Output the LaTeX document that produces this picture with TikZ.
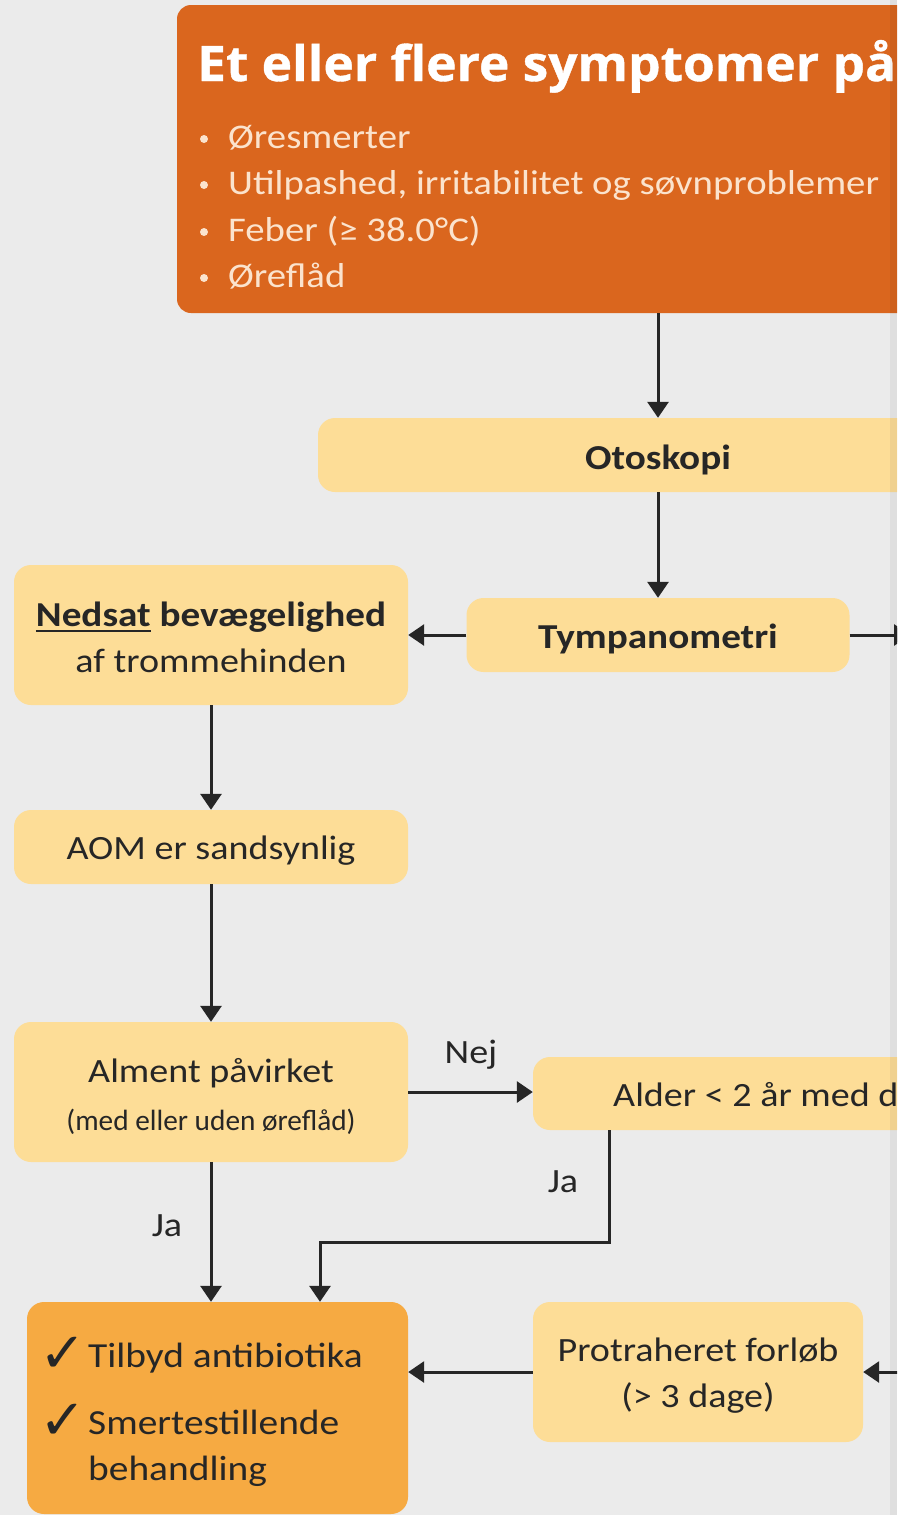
\documentclass[tikz,border=0pt]{standalone}
\usepackage{fontspec}
\setmainfont{Carlito}[FakeStretch=1.12]
\newfontfamily\condfont{Carlito}
\newfontfamily\titlefont{Open Sans}[FakeStretch=1.05, BoldFeatures={FakeBold=0.8}]
\newfontfamily\symfont{DejaVu Sans}
\usetikzlibrary{arrows.meta}

\definecolor{bgc}{HTML}{EBEBEB}
\definecolor{deep}{HTML}{DA661E}
\definecolor{pale}{HTML}{FDDD97}
\definecolor{mid}{HTML}{F6AA42}
\definecolor{ink}{HTML}{262626}
\definecolor{cream}{HTML}{FBE3CD}

% underline with a thickness that suits large type
\newcommand\ulword[1]{\setbox0\hbox{#1}\rlap{\color{ink}\rule[-0.16em]{\wd0}{0.055em}}\box0\relax}

\tikzset{
  box/.style={rectangle, rounded corners=17pt, fill=pale, inner sep=0pt},
  txt/.style={text=ink, inner sep=0pt, align=center, yshift=-4pt},
  arr/.style={draw=ink, line width=3pt, -{Triangle[length=16pt,width=21pt]}},
  reg/.style={font=\fontsize{34}{46}\selectfont},
  bold/.style={font=\bfseries\fontsize{35}{46}\selectfont},
  lbl/.style={text=ink, inner sep=0pt, font=\fontsize{34}{40}\selectfont},
  bul/.style={text=cream, inner sep=0pt, anchor=base west, font=\fontsize{34.6}{40}\selectfont},
  tick/.style={text=ink, inner sep=0pt, anchor=base west, font=\symfont\fontsize{56}{60}\selectfont},
}

\begin{document}
\begin{tikzpicture}[x=1pt,y=-1pt]
\useasboundingbox (0,0) rectangle (897,1515);
\clip (0,0) rectangle (897,1515);
\fill[bgc] (0,0) rectangle (897,1515);

% symptom panel
\node[rectangle, rounded corners=14pt, fill=deep, inner sep=0pt,
      minimum width=962pt, minimum height=308pt] (symp) at (658,159) {};
\node[anchor=base west, text=white, inner sep=0pt,
      font=\titlefont\bfseries\fontsize{49}{55}\selectfont] (title) at (197,81) {Et eller flere symptomer på};
\node[bul] (s1) at (228,148) {Øresmerter};
\node[bul] (s2) at (228,194) {Utilpashed, irritabilitet og søvnproblemer};
\node[bul] (s3) at (228,241) {Feber (≥ 38.0°C)};
\node[bul] (s4) at (228,287) {Øreflåd};
\foreach \yy in {139,185,232,278} \fill[cream] (204,\yy) circle (4pt);

% boxes
\node[box, minimum width=680pt, minimum height=74pt] (otos) at (658,455) {};
\node[box, minimum width=383pt, minimum height=74pt] (tymp) at (658,635) {};
\node[box, minimum width=394pt, minimum height=140pt] (nedsat) at (211,635) {};
\node[box, minimum width=394pt, minimum height=74pt] (aom) at (211,847) {};
\node[box, minimum width=394pt, minimum height=140pt] (alment) at (211,1092) {};
\node[box, minimum width=600pt, minimum height=73pt] (alder) at (833,1093.5) {};
\node[box, fill=mid, minimum width=381pt, minimum height=212pt] (tilbyd) at (217.5,1408) {};
\node[box, minimum width=330pt, minimum height=140pt] (prot) at (698,1372) {};

% box texts
\node[txt, bold, yshift=-1pt] (otostxt) at (otos.center) {Otoskopi};
\node[txt, bold] (tymptxt) at (tymp.center) {Tympanometri};
\node[txt, reg, yshift=2pt] (nedsattxt) at (nedsat.center)
  {{\bfseries\fontsize{35}{46}\selectfont\ulword{Nedsat} bevægelighed}\\af trommehinden};
\node[txt, reg] (aomtxt) at (aom.center) {AOM er sandsynlig};
\node[txt, reg] (almenttxt) at (alment.center)
  {Alment påvirket\\[2pt]{\condfont\fontsize{29.3}{30}\selectfont(med eller uden øreflåd)}};
\node[lbl, anchor=west] (aldertxt) at (613,1095) {Alder < 2 år med d};
\node[lbl, anchor=base west, font=\fontsize{35.2}{40}\selectfont] (t1) at (88,1367) {Tilbyd antibiotika};
\node[lbl, anchor=base west, font=\fontsize{35.2}{40}\selectfont] (t2) at (88,1434) {Smertestillende};
\node[lbl, anchor=base west, font=\fontsize{35.2}{40}\selectfont] (t3) at (88,1480) {behandling};
\node[tick] (c1) at (39,1372) {✓};
\node[tick] (c2) at (39,1439) {✓};
\node[txt, reg] (prottxt) at (prot.center) {Protraheret forløb\\(> 3 dage)};

% connectors
\coordinate (tyout) at (910,635);
\coordinate (prin) at (960,1372);
\coordinate (j1) at (609,1242);
\coordinate (j2) at (320,1242);
\draw[arr] (symp.south) -- (otos.north);
\draw[arr] (otos.south) -- (tymp.north);
\draw[arr] (tymp.west) -- (nedsat.east);
\draw[arr] (tymp.east) -- (tyout);
\draw[arr] (nedsat.south) -- (aom.north);
\draw[arr] (aom.south) -- (alment.north);
\draw[arr] (alment.east) -- (alment.east -| alder.west);
\draw[arr] (alment.south) -- (alment.south |- tilbyd.north);
\draw[arr] (alder.south -| j1) -- (j1) -- (j2) -- (j2 |- tilbyd.north);
\draw[arr] (prot.west) -- (prot.west -| tilbyd.east);
\draw[arr] (prin) -- (prot.east);

% branch labels
\node[lbl] (nej) at (471,1055) {Nej};
\node[lbl] (ja1) at (563,1182) {Ja};
\node[lbl] (ja2) at (167,1226) {Ja};

% shaded page edge
\fill[black, opacity=0.05] (890,0) rectangle (897,1515);
\end{tikzpicture}
\end{document}
